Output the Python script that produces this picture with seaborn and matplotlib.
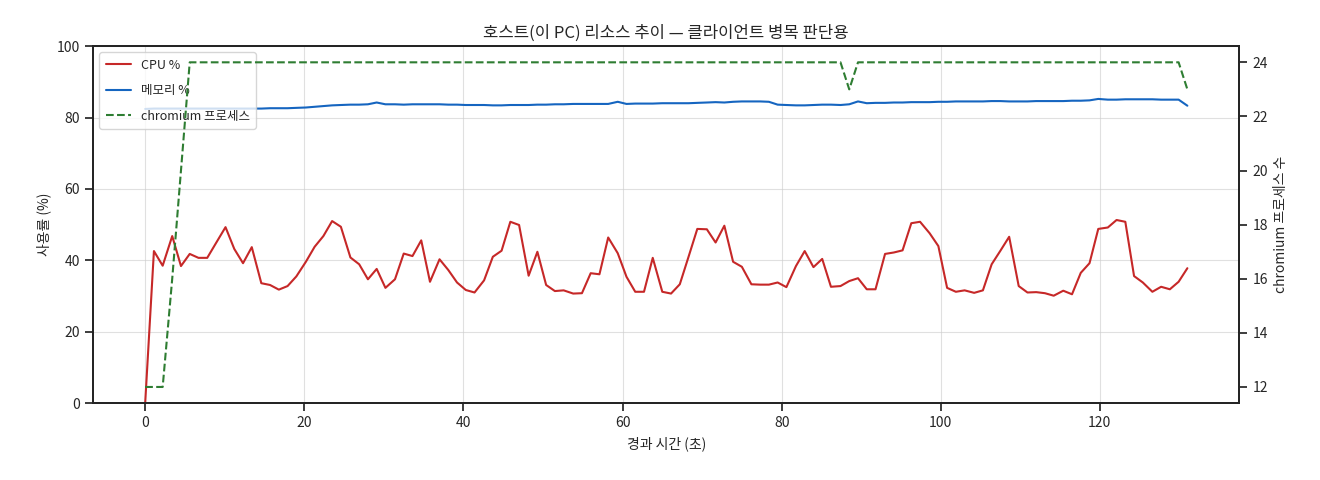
import pandas as pd
import matplotlib
matplotlib.use("Agg")
import matplotlib.pyplot as plt
import seaborn as sns

# elapsed seconds per sample
elapsed = [0.0, 1.1, 2.2, 3.4, 4.5, 5.6, 6.7, 7.8, 9.0, 10.1, 11.2, 12.3, 13.4, 14.6, 15.7,
           16.8, 17.9, 19.0, 20.2, 21.3, 22.4, 23.5, 24.6, 25.8, 26.9, 28.0, 29.1, 30.2, 31.4,
           32.5, 33.6, 34.7, 35.8, 37.0, 38.1, 39.2, 40.3, 41.4, 42.6, 43.7, 44.8, 45.9, 47.0,
           48.2, 49.3, 50.4, 51.5, 52.6, 53.8, 54.9, 56.0, 57.1, 58.2, 59.4, 60.5, 61.6, 62.7,
           63.8, 65.0, 66.1, 67.2, 68.3, 69.4, 70.6, 71.7, 72.8, 73.9, 75.0, 76.2, 77.3, 78.4,
           79.5, 80.6, 81.8, 82.9, 84.0, 85.1, 86.2, 87.4, 88.5, 89.6, 90.7, 91.8, 93.0, 94.1,
           95.2, 96.3, 97.4, 98.6, 99.7, 100.8, 101.9, 103.0, 104.2, 105.3, 106.4, 107.5, 108.6,
           109.8, 110.9, 112.0, 113.1, 114.2, 115.4, 116.5, 117.6, 118.7, 119.8, 121.0, 122.1,
           123.2, 124.3, 125.4, 126.6, 127.7, 128.8, 129.9, 131.0]

cpu = [0.0, 42.6, 38.5, 46.8, 38.4, 41.8, 40.7, 40.7, 45.2, 49.3, 43.2, 39.2, 43.7, 33.6, 33.1,
       31.8, 32.8, 35.5, 39.6, 43.8, 46.8, 51.0, 49.4, 40.8, 38.9, 34.7, 37.6, 32.3, 34.7, 41.9,
       41.2, 45.6, 34.0, 40.3, 37.3, 33.8, 31.7, 31.0, 34.4, 41.0, 42.7, 50.8, 49.9, 35.7, 42.4,
       33.1, 31.4, 31.6, 30.7, 30.8, 36.4, 36.1, 46.4, 42.0, 35.4, 31.2, 31.2, 40.7, 31.2, 30.7,
       33.3, 41.0, 48.8, 48.7, 45.0, 49.7, 39.6, 38.2, 33.3, 33.2, 33.2, 33.8, 32.5, 38.4, 42.6,
       38.1, 40.4, 32.6, 32.8, 34.2, 35.0, 31.9, 31.9, 41.8, 42.2, 42.8, 50.4, 50.8, 47.6, 44.0,
       32.3, 31.2, 31.6, 30.9, 31.6, 38.9, 42.7, 46.6, 32.8, 31.0, 31.1, 30.8, 30.1, 31.5, 30.5,
       36.5, 39.2, 48.8, 49.2, 51.3, 50.8, 35.6, 33.8, 31.2, 32.6, 31.9, 34.0, 37.8]

memory = [82.4, 82.5, 82.5, 82.5, 82.5, 82.5, 82.5, 82.5, 82.5, 82.5, 82.5, 82.5, 82.5, 82.5,
          82.6, 82.6, 82.6, 82.7, 82.8, 83.0, 83.2, 83.4, 83.5, 83.6, 83.6, 83.7, 84.2, 83.7,
          83.7, 83.6, 83.7, 83.7, 83.7, 83.7, 83.6, 83.6, 83.5, 83.5, 83.5, 83.4, 83.4, 83.5,
          83.5, 83.5, 83.6, 83.6, 83.7, 83.7, 83.8, 83.8, 83.8, 83.8, 83.8, 84.4, 83.8, 83.9,
          83.9, 83.9, 84.0, 84.0, 84.0, 84.0, 84.1, 84.2, 84.3, 84.2, 84.4, 84.5, 84.5, 84.5,
          84.4, 83.6, 83.5, 83.4, 83.4, 83.5, 83.6, 83.6, 83.5, 83.7, 84.5, 84.0, 84.1, 84.1,
          84.2, 84.2, 84.3, 84.3, 84.3, 84.4, 84.4, 84.5, 84.5, 84.5, 84.5, 84.6, 84.6, 84.5,
          84.5, 84.5, 84.6, 84.6, 84.6, 84.6, 84.7, 84.7, 84.8, 85.2, 85.0, 85.0, 85.1, 85.1,
          85.1, 85.1, 85.0, 85.0, 85.0, 83.3]

chromium = [12, 12, 12, 16, 20] + [24] * 74 + [23] + [24] * 37 + [23]

df = pd.DataFrame({"t": elapsed, "cpu": cpu, "mem": memory, "proc": chromium})

sns.set_theme(style="ticks")
plt.rcParams["font.family"] = ["Noto Sans CJK KR", "DejaVu Sans"]
plt.rcParams["axes.unicode_minus"] = False

fig, ax = plt.subplots(figsize=(13.2, 4.8), dpi=100)
fig.subplots_adjust(left=0.0705, right=0.939, top=0.904, bottom=0.160)

sns.lineplot(data=df, x="t", y="cpu", ax=ax, color="#c62828", linewidth=1.5, label="CPU %")
sns.lineplot(data=df, x="t", y="mem", ax=ax, color="#1565c0", linewidth=1.5, label="메모리 %")
ax.set_ylim(0, 100)
ax.set_xlabel("경과 시간 (초)", fontsize=10)
ax.set_ylabel("사용률 (%)", fontsize=10)
ax.grid(True, color="#cccccc", alpha=0.6, linewidth=0.8)
ax.tick_params(labelsize=10)
for s in ax.spines.values():
    s.set_color("black")

ax2 = ax.twinx()
sns.lineplot(data=df, x="t", y="proc", ax=ax2, color="#2e7d32", linewidth=1.5,
             linestyle="--", label="chromium 프로세스")
ax2.set_ylabel("chromium 프로세스 수", fontsize=10)
ax2.tick_params(labelsize=10)
ax2.grid(False)

h1, l1 = ax.get_legend_handles_labels()
h2, l2 = ax2.get_legend_handles_labels()
if ax2.get_legend() is not None:
    ax2.get_legend().remove()
ax.legend(h1 + h2, l1 + l2, loc="upper left", fontsize=9, framealpha=0.8,
          labelspacing=1.0, borderpad=0.5)

ax.set_title("호스트(이 PC) 리소스 추이 — 클라이언트 병목 판단용", fontsize=12)

plt.savefig("out.png", dpi=100)
